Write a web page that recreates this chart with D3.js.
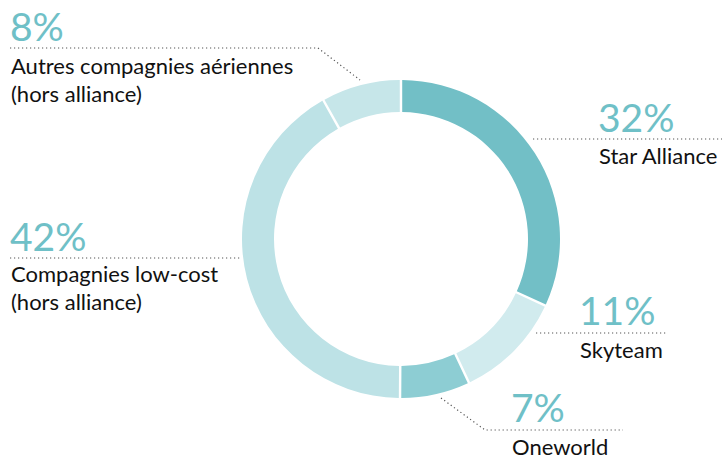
<!DOCTYPE html>
<html><head><meta charset="utf-8">
<script src="https://cdn.jsdelivr.net/npm/d3@7"></script>
<style>
html,body{margin:0;padding:0;background:#fff;}
svg{display:block;}
.pct{font-family:Lato,"Open Sans",sans-serif;font-weight:400;fill:#6fc0c7;}
.name{font-family:Lato,"Open Sans",sans-serif;font-weight:400;fill:#111;}
</style>
</head><body>
<svg id="chart" width="722" height="459"></svg>
<script>
// Data
const categories = ["Star Alliance","Skyteam","Oneworld","Compagnies low-cost (hors alliance)","Autres compagnies aériennes (hors alliance)"];
const values = [32, 11, 7, 42, 8];
const pctLabels = ["32%","11%","7%","42%","8%"];
const nameLines = [["Star Alliance"],["Skyteam"],["Oneworld"],["Compagnies low-cost","(hors alliance)"],["Autres compagnies aériennes","(hors alliance)"]];

// Styles / layout
const colors = ["#72bfc6","#d1ebee","#8dcdd3","#bde2e6","#c6e6e9"];
const cx = 401, cy = 239, rOuter = 159, rInner = 127;
const labelLayout = [
  {x:598, pctY:132, nameY:164, line:[[533,139],[722,139]]},
  {x:579, pctY:325, nameY:358, line:[[536,333],[668,333]]},
  {x:511, pctY:422, nameY:455, line:[[441,398],[485,430],[623,430]]},
  {x:10,  pctY:251, nameY:282, line:[[10,258],[240,258]]},
  {x:10,  pctY:41,  nameY:74,  line:[[10,48],[318,48],[360,80]]}
];

const svg = d3.select("#chart");
const g = svg.append("g").attr("transform",`translate(${cx},${cy})`);
const pie = d3.pie().sort(null).value(d=>d).startAngle(0).endAngle(2*Math.PI).padAngle(0.012);
const arc = d3.arc().innerRadius(rInner).outerRadius(rOuter);
g.selectAll("path").data(pie(values)).join("path")
  .attr("d", arc).attr("fill",(d,i)=>colors[i]);

const line = d3.line();
svg.selectAll("path.leader").data(labelLayout).join("path")
  .attr("class","leader")
  .attr("d", d=>line(d.line))
  .attr("fill","none").attr("stroke","#555").attr("stroke-width",1.2)
  .attr("stroke-dasharray","1.2,2.8");

labelLayout.forEach((L,i)=>{
  svg.append("text").attr("class","pct").attr("x",L.x).attr("y",L.pctY)
    .attr("font-size",39).text(pctLabels[i]);
  nameLines[i].forEach((t,j)=>{
    svg.append("text").attr("class","name").attr("x",L.x+1).attr("y",L.nameY+j*28)
      .attr("font-size",22).text(t);
  });
});
</script>
</body></html>
